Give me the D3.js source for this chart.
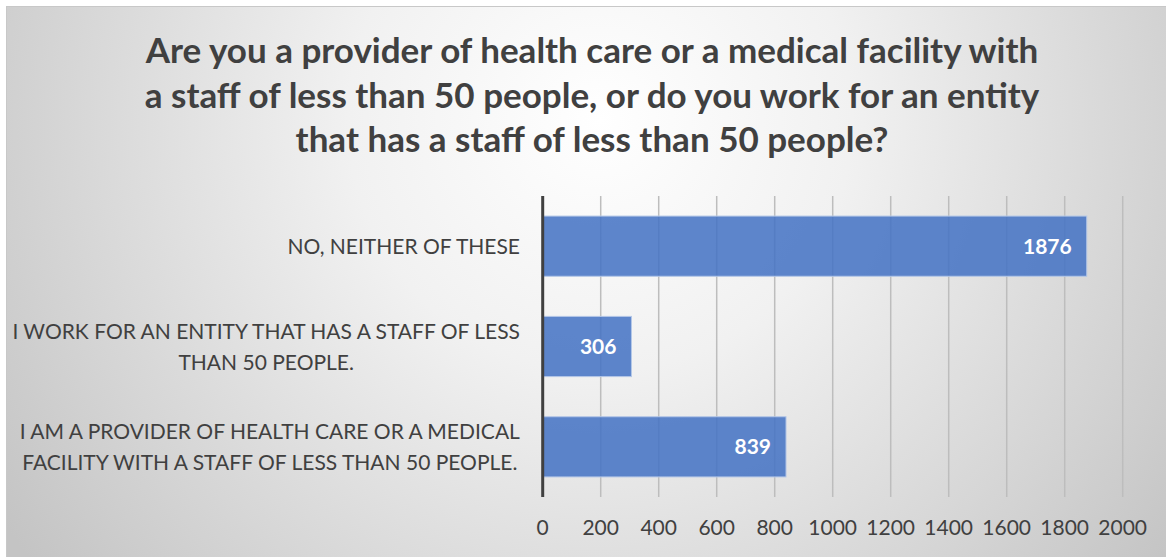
<!DOCTYPE html>
<html lang="en">

<head>
     <title>Staff survey</title>
     <meta charset="UTF-8">
     <script src="https://d3js.org/d3.v7.min.js"></script>
</head>

<body>
     <style>
          body {
               margin: 0;
               padding: 0;
               background: #ffffff;
          }

          text {
               font-family: Lato, "Open Sans", sans-serif;
          }
     </style>

     <script>
          let width = 1166;
          let height = 557;

          // data
          let titleLines = [
               "Are you a provider of health care or a medical facility with",
               "a staff of less than 50 people, or do you work for an entity",
               "that has a staff of less than 50 people?"
          ]
          let categories = [
               ["NO, NEITHER OF THESE"],
               ["I WORK FOR AN ENTITY THAT HAS A STAFF OF LESS", "THAN 50 PEOPLE."],
               ["I AM A PROVIDER OF HEALTH CARE OR A MEDICAL", "FACILITY WITH A STAFF OF LESS THAN 50 PEOPLE."]
          ]
          let values = [1876, 306, 839]
          let ticks = [0, 200, 400, 600, 800, 1000, 1200, 1400, 1600, 1800, 2000]

          let svg = d3.select("body")
               .append("svg")
               .attr("width", width)
               .attr("height", height)
               .style("display", "block")

          let defs = svg.append("defs")
          let grad = defs.append("radialGradient")
               .attr("id", "bg")
               .attr("gradientUnits", "userSpaceOnUse")
               .attr("cx", 600)
               .attr("cy", 120)
               .attr("r", 720)
          grad.append("stop").attr("offset", "0%").attr("stop-color", "#ffffff")
          grad.append("stop").attr("offset", "35%").attr("stop-color", "#f1f1f1")
          grad.append("stop").attr("offset", "100%").attr("stop-color", "#c4c4c4")

          svg.append("rect")
               .attr("x", 6.5)
               .attr("y", 6.5)
               .attr("width", width)
               .attr("height", height)
               .attr("fill", "url(#bg)")
               .attr("stroke", "#c8c8c8")
               .attr("stroke-width", 1)

          // title
          svg.append("g")
               .selectAll("text")
               .data(titleLines)
               .join("text")
               .attr("x", 592)
               .attr("y", (d, i) => 63 + i * 44.5)
               .attr("text-anchor", "middle")
               .attr("font-size", "35px")
               .attr("font-weight", "bold")
               .attr("fill", "#404040")
               .text(d => d)

          let x = d3.scaleLinear()
               .domain([0, 2000])
               .range([542.7, 1122.7])

          let y = d3.scaleBand()
               .domain(d3.range(values.length))
               .range([196, 497])
               .paddingInner(0.4)
               .paddingOuter(0.2)

          // gridlines
          svg.append("g")
               .selectAll("line")
               .data(ticks.slice(1))
               .join("line")
               .attr("x1", d => x(d))
               .attr("x2", d => x(d))
               .attr("y1", 196)
               .attr("y2", 497)
               .attr("stroke", "#bdbdbd")
               .attr("stroke-width", 1.5)

          // bars
          svg.append("g")
               .selectAll("rect")
               .data(values)
               .join("rect")
               .attr("x", x(0))
               .attr("y", (d, i) => y(i))
               .attr("width", d => x(d) - x(0))
               .attr("height", y.bandwidth())
               .attr("fill", "#4472c4")
               .attr("fill-opacity", 0.86)
               .attr("stroke", "#b4c7e7")
               .attr("stroke-width", 1)

          // bar labels
          svg.append("g")
               .selectAll("text")
               .data(values)
               .join("text")
               .attr("x", d => x(d) - 15)
               .attr("y", (d, i) => y(i) + y.bandwidth() / 2)
               .attr("dy", "0.36em")
               .attr("text-anchor", "end")
               .attr("font-size", "21px")
               .attr("font-weight", "bold")
               .attr("fill", "#ffffff")
               .text(d => d)

          // value axis line
          svg.append("line")
               .attr("x1", x(0))
               .attr("x2", x(0))
               .attr("y1", 196)
               .attr("y2", 497)
               .attr("stroke", "#404040")
               .attr("stroke-width", 3)

          // tick labels
          svg.append("g")
               .selectAll("text")
               .data(ticks)
               .join("text")
               .attr("x", d => x(d))
               .attr("y", 535)
               .attr("text-anchor", "middle")
               .attr("font-size", "21px")
               .attr("fill", "#404040")
               .text(d => d)

          // category labels
          let cat = svg.append("g")
               .selectAll("text")
               .data(categories)
               .join("text")
               .attr("text-anchor", "middle")
               .attr("font-size", "21px")
               .attr("fill", "#404040")

          cat.each(function (lines, i) {
               let t = d3.select(this)
               let cy = y(i) + y.bandwidth() / 2
               let lh = 31
               let top = cy - (lines.length - 1) * lh / 2
               t.selectAll("tspan")
                    .data(lines)
                    .join("tspan")
                    .attr("x", 0)
                    .attr("y", (d, j) => top + j * lh)
                    .attr("dy", "0.36em")
                    .text(d => d)
          })

          // the widest line of each label ends at x = 520
          cat.each(function () {
               let w = this.getBBox().width
               d3.select(this).selectAll("tspan").attr("x", 520 - w / 2)
          })
     </script>

</body>

</html>
